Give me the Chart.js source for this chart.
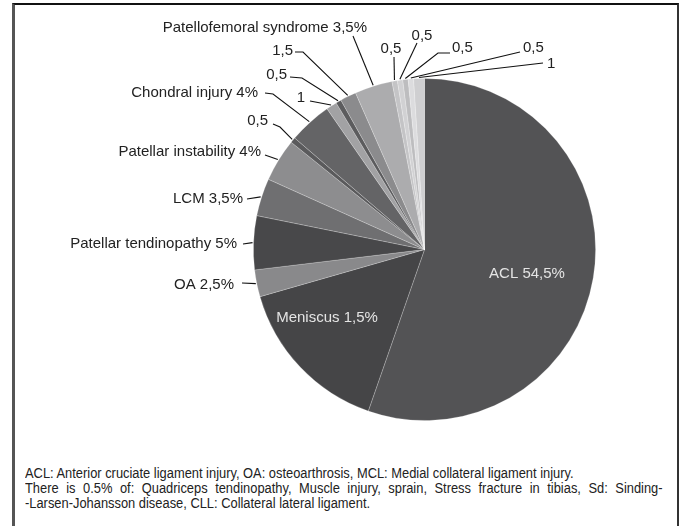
<!DOCTYPE html>
<html>
<head>
<meta charset="utf-8">
<script src="https://cdn.jsdelivr.net/npm/chart.js@4.4.1/dist/chart.umd.min.js"></script>
<style>
  body { margin: 0; background: #fff; }
  #frame {
    position: absolute; left: 12px; top: 3px; width: 662px; height: 540px;
    border-top: 2px solid #111; border-left: 3px solid #555; border-right: 2px solid #333;
  }
  #chart { position: absolute; left: 0; top: 0; }
  #note {
    position: absolute; left: 25px; top: 466px; white-space: nowrap;
    font-family: "Liberation Sans", Arial, sans-serif;
    font-size: 14px; line-height: 15px; color: #222;
    transform: scaleX(0.92); transform-origin: 0 0;
  }
  #note .just { width: 693px; text-align: justify; text-align-last: justify; white-space: normal; }
</style>
</head>
<body>
<div id="frame"></div>
<canvas id="chart" width="680" height="460"></canvas>
<div id="note">
  <div>ACL: Anterior cruciate ligament injury, OA: osteoarthrosis, MCL: Medial collateral ligament injury.</div>
  <div class="just">There is 0.5% of: Quadriceps tendinopathy, Muscle injury, sprain, Stress fracture in tibias, Sd: Sinding-</div>
  <div>-Larsen-Johansson disease, CLL: Collateral lateral ligament.</div>
</div>
<script>
// slices clockwise from 12 o'clock
const categories = ['ACL', 'Meniscus', 'OA', 'Patellar tendinopathy', 'LCM', 'Patellar instability',
  'Other 1', 'Chondral injury', 'Other 2', 'Other 3', 'Other 4', 'Patellofemoral syndrome',
  'Sd', 'Quadriceps tendinopathy', 'Muscle injury', 'Stress fracture', 'CLL'];
const values = [54.5, 15, 2.5, 5, 3.5, 4, 0.5, 4, 1, 0.5, 1.5, 3.5, 0.5, 0.5, 0.5, 0.5, 1];
const sliceLabels = ['ACL 54,5%', 'Meniscus 1,5%', 'OA 2,5%', 'Patellar tendinopathy 5%', 'LCM 3,5%',
  'Patellar instability 4%', '0,5', 'Chondral injury 4%', '1', '0,5', '1,5',
  'Patellofemoral syndrome 3,5%', '0,5', '0,5', '0,5', '0,5', '1'];
const sliceColors = ['#535355', '#454547', '#89898b', '#48484a', '#6f6f71', '#8d8d8f',
  '#5a5a5c', '#646466', '#a2a2a4', '#5c5c5e', '#8b8b8d', '#acacae',
  '#c4c4c6', '#d1d1d3', '#bdbdbf', '#dcdcde', '#cfcfd1'];

// where each label's text sits, and an optional elbow on its leader
const labelLayout = {
  0: { inside: true, x: 527, y: 274 },
  1: { inside: true, x: 327, y: 318 },
  2: { x: 234, y: 285, align: 'right', from: [242, 283] },
  3: { x: 237, y: 244, align: 'right', from: [243, 244] },
  4: { x: 243, y: 199, align: 'right', from: [247, 199] },
  5: { x: 261, y: 152, align: 'right', from: [265, 155] },
  6: { x: 268, y: 121, align: 'right', from: [273, 124], elbow: [280, 127] },
  7: { x: 258, y: 93, align: 'right', from: [265, 93], elbow: [273, 94] },
  8: { x: 305, y: 98, align: 'right', from: [310, 101] },
  9: { x: 287, y: 75, align: 'right', from: [290, 77], elbow: [302, 78] },
  10: { x: 293, y: 51, align: 'right', from: [295, 52], elbow: [303, 52] },
  11: { x: 367, y: 28, align: 'right', from: [353, 36] },
  12: { x: 391, y: 49, align: 'center', from: [394, 57] },
  13: { x: 422, y: 36, align: 'center', from: [417, 43] },
  14: { x: 452, y: 48, align: 'left', from: [450, 53], elbow: [438, 53] },
  15: { x: 523, y: 48, align: 'left', from: [520, 52] },
  16: { x: 547, y: 64, align: 'left', from: [543, 63] },
};

const pieLabels = {
  id: 'pieLabels',
  afterDatasetsDraw(chart) {
    const ctx = chart.ctx;
    const arcs = chart.getDatasetMeta(0).data;
    ctx.save();
    ctx.font = '15px "Liberation Sans", Arial, sans-serif';
    ctx.textBaseline = 'middle';
    arcs.forEach((arc, i) => {
      const lay = labelLayout[i];
      if (!lay) return;
      if (lay.inside) {
        ctx.fillStyle = '#e4e4e4';
        ctx.textAlign = 'center';
        ctx.fillText(sliceLabels[i], lay.x, lay.y);
        return;
      }
      const p = arc.getProps(['x', 'y', 'startAngle', 'endAngle', 'outerRadius']);
      const mid = (p.startAngle + p.endAngle) / 2;
      const ex = p.x + Math.cos(mid) * (p.outerRadius + 1);
      const ey = p.y + Math.sin(mid) * (p.outerRadius + 1);
      ctx.strokeStyle = '#111';
      ctx.lineWidth = 1.1;
      ctx.beginPath();
      ctx.moveTo(lay.from[0], lay.from[1]);
      if (lay.elbow) ctx.lineTo(lay.elbow[0], lay.elbow[1]);
      ctx.lineTo(ex, ey);
      ctx.stroke();
      ctx.fillStyle = '#222';
      ctx.textAlign = lay.align;
      ctx.fillText(sliceLabels[i], lay.x, lay.y);
    });
    ctx.restore();
  }
};

new Chart(document.getElementById('chart'), {
  type: 'pie',
  data: {
    labels: categories,
    datasets: [{
      data: values,
      backgroundColor: sliceColors,
      borderColor: 'rgba(255, 255, 255, 0.28)',
      borderWidth: 0.8,
    }],
  },
  options: {
    responsive: false,
    animation: false,
    layout: { padding: { left: 253, right: 84, top: 78, bottom: 39 } },
    plugins: {
      legend: { display: false },
      tooltip: { enabled: false },
    },
  },
  plugins: [pieLabels],
});
</script>
</body>
</html>
